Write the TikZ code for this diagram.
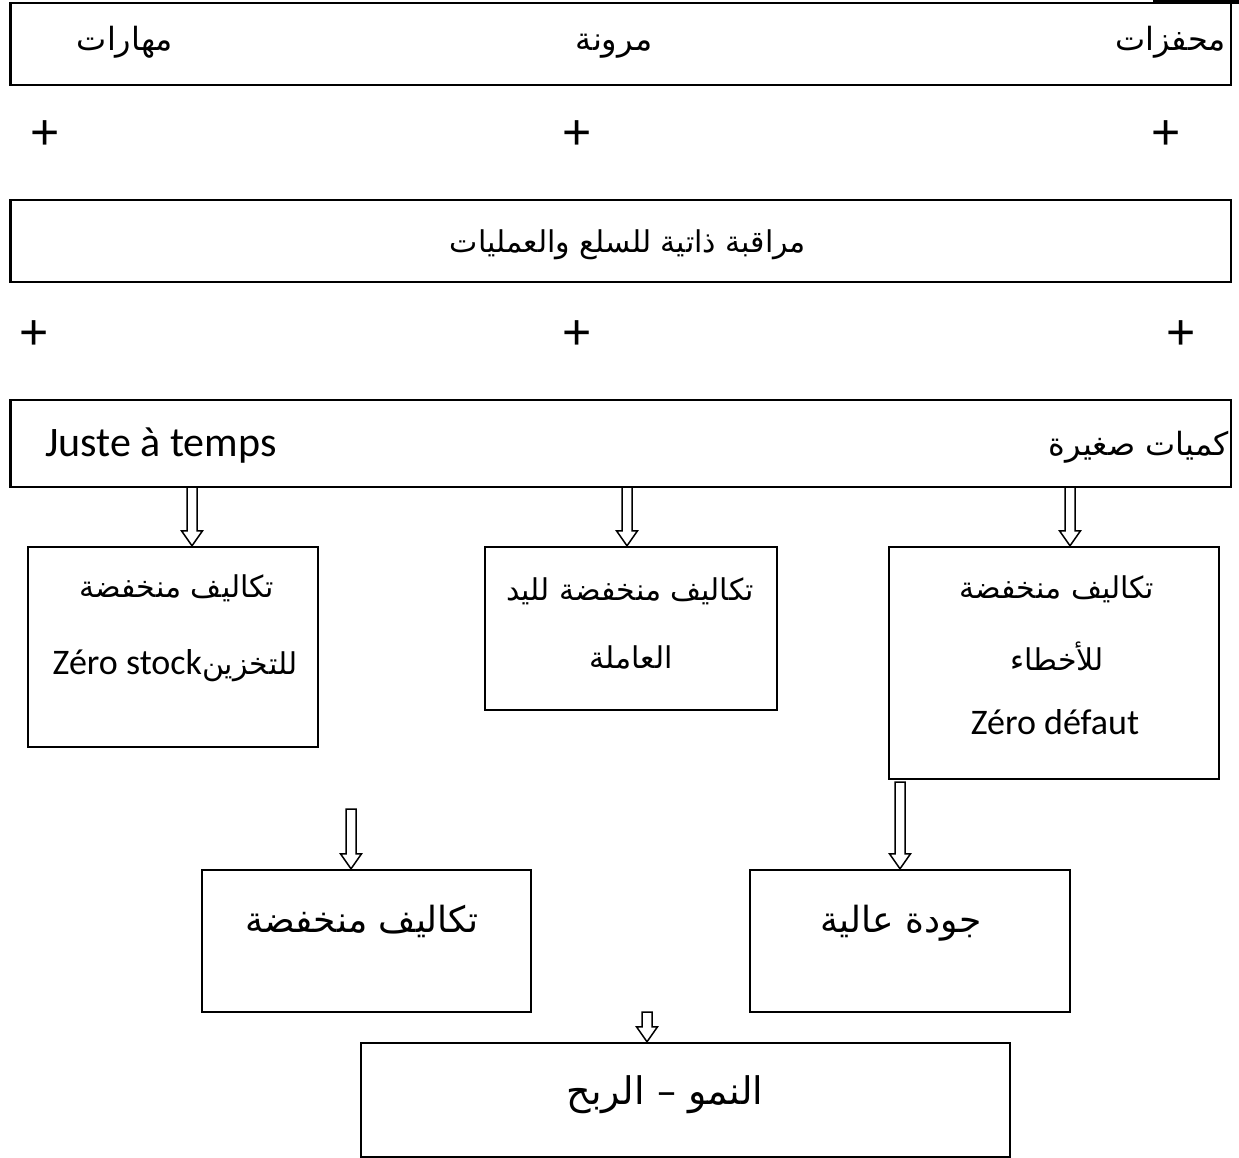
\documentclass[tikz,border=0pt]{standalone}
\usepackage{fontspec}
\setmainfont{Carlito}
\newfontfamily\arabicfont[Script=Arabic]{DejaVu Sans}
\newfontfamily\plusfont{Liberation Sans}
\TeXXeTstate=1
\usetikzlibrary{calc}

% hollow downward block arrow from a top coordinate to the north side of a node
\newcommand\hollowdown[3]{%
  \coordinate (#3) at (#1 |- #2.north);
  \draw[hollow] ([xshift=-5]#1) -- ([shift={(-5,-15)}]#3) -- ([shift={(-10.5,-15)}]#3)
    -- (#3) -- ([shift={(10.5,-15)}]#3) -- ([shift={(5,-15)}]#3) -- ([xshift=5]#1) -- cycle;}

\begin{document}
\begin{tikzpicture}[x=1pt,y=-1pt,
  box/.style={draw=black, line width=2.4pt, fill=white, inner sep=0pt},
  hollow/.style={draw=black, line width=1.5pt, fill=white, line join=miter},
  artop/.style={inner sep=0pt, font=\arabicfont\fontsize{32}{36}\selectfont},
  artxt/.style={inner sep=0pt, font=\arabicfont\fontsize{30}{34}\selectfont},
  artbig/.style={inner sep=0pt, font=\arabicfont\fontsize{36}{40}\selectfont},
  lattxt/.style={inner sep=0pt, font=\fontsize{36}{40}\selectfont},
  latbig/.style={inner sep=0pt, font=\fontsize{42}{46}\selectfont},
  plus/.style={inner sep=0pt, font=\plusfont\fontsize{50}{56}\selectfont}]
\useasboundingbox (0,0) rectangle (1239,1158);
\fill[white] (0,0) rectangle (1239,1158);

% boxes
\node[box, minimum width=1220.5, minimum height=82] (b1) at (620.75,44) {};
\node[box, minimum width=1220.5, minimum height=82] (b2) at (620.75,241) {};
\node[box, minimum width=1220.5, minimum height=87] (b3) at (620.75,443.5) {};
\node[box, minimum width=290, minimum height=200] (bL) at (173,647) {};
\node[box, minimum width=292, minimum height=163] (bM) at (631,628.5) {};
\node[box, minimum width=330, minimum height=232] (bR) at (1054,663) {};
\node[box, minimum width=329, minimum height=142] (bC) at (366.5,941) {};
\node[box, minimum width=320, minimum height=142] (bQ) at (910,941) {};
\node[box, minimum width=649, minimum height=114] (bF) at (685.5,1100) {};

% dark strip along the top right edge
\fill[black] (1153,0) rectangle (1239,4.5);

% first row
\node[artop, anchor=base] (skills) at (125,51) {\beginR مهارات\endR};
\node[artop, anchor=base] (flex) at (614,51) {\beginR مرونة\endR};
\node[artop, anchor=base east] (motiv) at (1226,51) {\beginR محفزات\endR};

% plus signs
\node[plus] (p1) at (45,135) {+};
\node[plus] (p2) at (577,135) {+};
\node[plus] (p3) at (1166,135) {+};
\node[plus] (p4) at (34,335) {+};
\node[plus] (p5) at (577,335) {+};
\node[plus] (p6) at (1181,335) {+};

% second row
\node[artxt, anchor=base] (selfctl) at (628,253) {\beginR مراقبة ذاتية للسلع والعمليات\endR};

% third row
\node[latbig, anchor=base west] (jit) at (45,456) {Juste à temps};
\node[artop, anchor=base east] (small) at (1229,455) {\beginR كميات صغيرة\endR};

% cost boxes
\node[artxt, anchor=base] (lc1) at (177,597) {\beginR تكاليف منخفضة\endR};
\node[lattxt, anchor=base] (lc2) at (175,674) {Zéro stock{\arabicfont\fontsize{30}{34}\selectfont\beginR للتخزين\endR}};
\node[artxt, anchor=base] (mc1) at (630,600) {\beginR تكاليف منخفضة لليد\endR};
\node[artxt, anchor=base] (mc2) at (631,668) {\beginR العاملة\endR};
\node[artxt, anchor=base] (rc1) at (1057,598) {\beginR تكاليف منخفضة\endR};
\node[artxt, anchor=base] (rc2) at (1057,670) {\beginR للأخطاء\endR};
\node[lattxt, anchor=base] (rc3) at (1055,734) {Zéro défaut};

% results
\node[artbig, anchor=base] (lowcost) at (362,932) {\beginR تكاليف منخفضة\endR};
\node[artbig, anchor=base] (quality) at (901,932) {\beginR جودة عالية\endR};
\node[artbig, anchor=base, font=\arabicfont\fontsize{38}{42}\selectfont] (growth) at (665,1104) {\beginR النمو – الربح\endR};

% arrows
\coordinate (s1) at (192,487);
\coordinate (s2) at (627,487);
\coordinate (s3) at (1070,487);
\coordinate (s4) at (351,809);
\coordinate (s5) at (900,782);
\coordinate (s6) at (647,1012);
\hollowdown{s1}{bL}{e1}
\hollowdown{s2}{bM}{e2}
\hollowdown{s3}{bR}{e3}
\hollowdown{s4}{bC}{e4}
\hollowdown{s5}{bQ}{e5}
\hollowdown{s6}{bF}{e6}
\end{tikzpicture}
\end{document}
